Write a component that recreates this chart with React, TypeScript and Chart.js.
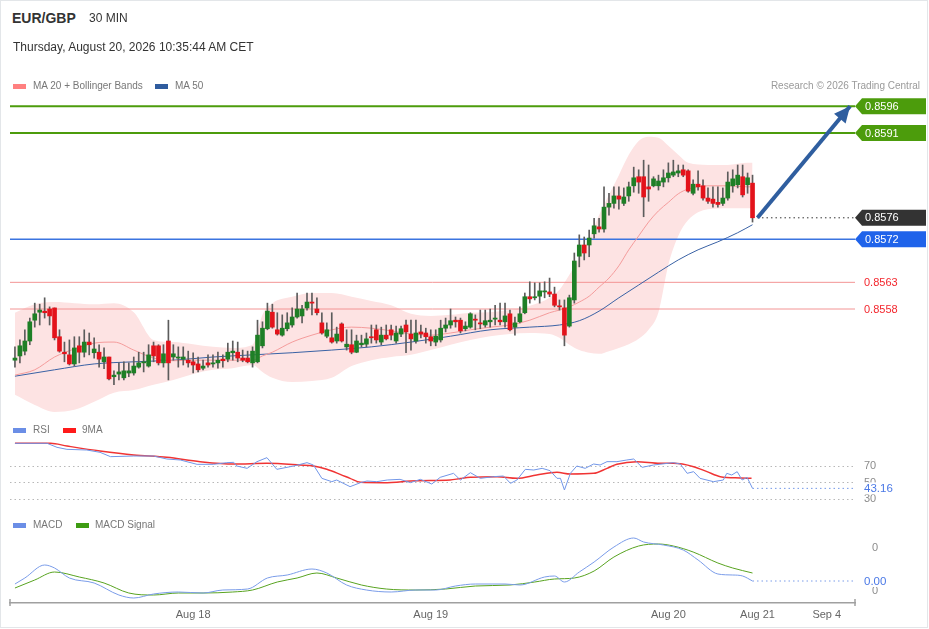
import React, { useEffect, useRef } from 'react';
import { Chart, registerables } from 'chart.js';

Chart.register(...registerables);

const FONT = "'Liberation Sans', Arial, Helvetica, sans-serif";

// ---------- candles (30 min EUR/GBP) ----------
const opens = [
  .85484, .85492, .85501, .8552, .85559, .85574, .85576, .8558, .85582, .85528,
  .85499, .85494, .85477, .85511, .85499, .85518, .85498, .85499, .85481, .8549,
  .85453, .85458, .85451, .8546, .8546, .85471, .85479, .85473, .85511, .85511,
  .85479, .8552, .8549, .85488, .85486, .85484, .85481, .85477, .85469, .85479,
  .85477, .85479, .85486, .85486, .85498, .85499, .85488, .85488, .85479, .85481,
  .85511, .85543, .85574, .85541, .85531, .85543, .8555, .85565, .85567, .85582,
  .85593, .8558, .85554, .85529, .85526, .8552, .85552, .85509, .85513, .85499,
  .85513, .85514, .85528, .85541, .85518, .85531, .85541, .8552, .85533, .8555,
  .85533, .8552, .85537, .85535, .85528, .85518, .85522, .85544, .8555, .85559,
  .85559, .85543, .85546, .85561, .85554, .8555, .85556, .85561, .85559, .85556,
  .85571, .85546, .85556, .85573, .85603, .85601, .85604, .85612, .85612, .85608,
  .85586, .85582, .85548, .85597, .85679, .857, .857, .85721, .85734, .8573,
  .85771, .85778, .85792, .85778, .85792, .85811, .85828, .85828, .85809, .85811,
  .85811, .85818, .85826, .85831, .85835, .85841, .85839, .85797, .85814, .85811,
  .85788, .85786, .8578, .85778, .85788, .85811, .85813, .85828, .85813, .85816,
];
const highs = [
  .85509, .85522, .85541, .85563, .85591, .85589, .85601, .85584, .85582, .85541,
  .85518, .85522, .85528, .85528, .85541, .85535, .85526, .85513, .85507, .8549,
  .85464, .85479, .85481, .85479, .8549, .85499, .85499, .85513, .85518, .85513,
  .85513, .85559, .85513, .85509, .85509, .85501, .85498, .8549, .85484, .85494,
  .85494, .85499, .85494, .85516, .8552, .85518, .85503, .85501, .85509, .85559,
  .85556, .85591, .85589, .85573, .85569, .85573, .85582, .8561, .85587, .8561,
  .8561, .85601, .85573, .85554, .85573, .85546, .85554, .85541, .85541, .85531,
  .85531, .85535, .8555, .8555, .85546, .8555, .8555, .85548, .85548, .85559,
  .85559, .85559, .8555, .85544, .85541, .85541, .85559, .85563, .8558, .85565,
  .85563, .85556, .85573, .85569, .85578, .85578, .8558, .85587, .85591, .85591,
  .85578, .85565, .85584, .8561, .85631, .85629, .85629, .85631, .85638, .85621,
  .85597, .85597, .85606, .85685, .85719, .85715, .85728, .8575, .8575, .85809,
  .85797, .85809, .85809, .85807, .85818, .85846, .85841, .85859, .8585, .85828,
  .85831, .85841, .85854, .85859, .8585, .8585, .85841, .85822, .85839, .85822,
  .85807, .85809, .85809, .85807, .85837, .85841, .8585, .8585, .85835, .85831,
];
const lows = [
  .85471, .85479, .85494, .85513, .85546, .8555, .85563, .8555, .85522, .85499,
  .85481, .85475, .85473, .85479, .8549, .85494, .85488, .85471, .85468, .85447,
  .85438, .85447, .85447, .85453, .85456, .85469, .85462, .85471, .85481, .85475,
  .85471, .85447, .85484, .85471, .85475, .85471, .8546, .85462, .85466, .85471,
  .85471, .85469, .85471, .85481, .85484, .85481, .85481, .85479, .85471, .85479,
  .85507, .85541, .85544, .85531, .85529, .85539, .85546, .85563, .85554, .85578,
  .85569, .85569, .85533, .85526, .85516, .85516, .85518, .85503, .85496, .85498,
  .85509, .85509, .85516, .85516, .85513, .85522, .85522, .85516, .85528, .85498,
  .85503, .85516, .85526, .85516, .85511, .85511, .85518, .85537, .85544, .85546,
  .85535, .85539, .85544, .85541, .85543, .85546, .85546, .8555, .8555, .85546,
  .85539, .85531, .85554, .85571, .85591, .85597, .85591, .85601, .85603, .85584,
  .85578, .85511, .85546, .85591, .85659, .85672, .85678, .85713, .85724, .85724,
  .85756, .85769, .85767, .85774, .85782, .85799, .85797, .85753, .85782, .85809,
  .85803, .85809, .85818, .85828, .85828, .85828, .85799, .85794, .85803, .85784,
  .85778, .85771, .85771, .85774, .85784, .85799, .85807, .8579, .85797, .85743,
];
const closes = [
  .85488, .85511, .8552, .85556, .85571, .85578, .85573, .85567, .85526, .85501,
  .85496, .85477, .85507, .85499, .85518, .85513, .85505, .85486, .8549, .85449,
  .85456, .85462, .85464, .85464, .85473, .85479, .85481, .85494, .85492, .85479,
  .85496, .85479, .85496, .8549, .8549, .85479, .85475, .85466, .85473, .85475,
  .85479, .85484, .85483, .85499, .85501, .85488, .85484, .85481, .85501, .85531,
  .85544, .85576, .85546, .85533, .85544, .85554, .85565, .8558, .8558, .85593,
  .85591, .85573, .85535, .85541, .85518, .85533, .8552, .85514, .85499, .8552,
  .85516, .85524, .85526, .85522, .85531, .85524, .85531, .85535, .85543, .85537,
  .85524, .85535, .85533, .85528, .8552, .85529, .85544, .8555, .85558, .85556,
  .85539, .85548, .85571, .85559, .85552, .85558, .85559, .85563, .85556, .85567,
  .85541, .85554, .85571, .85603, .85599, .85603, .85614, .85614, .85608, .85587,
  .85584, .85531, .85601, .8567, .857, .85685, .85713, .85736, .8573, .85771,
  .85778, .85792, .85786, .8579, .85809, .85826, .85818, .8579, .85805, .85824,
  .8582, .85826, .85835, .85837, .85839, .85831, .85801, .85814, .85809, .85788,
  .85782, .85778, .85776, .85788, .85818, .85824, .85831, .85794, .85826, .85751,
];

// ---------- MA 20 + Bollinger Bands (sampled at candle index) ----------
const bandIdx = [0, 4, 8, 12, 16, 20, 24, 28, 32, 36, 40, 44, 48, 50, 52, 56, 60, 64, 68, 72, 76, 80, 84, 88, 92, 96, 100, 104, 108,
  110, 112, 114, 116, 118, 120, 122, 124, 126, 128, 130, 132, 134, 136, 140, 144, 148, 149];
const bbUpper = [.85573, .85589, .85593, .85591, .85589, .85591, .85574, .85522, .85518, .85514, .85509, .85507, .85513, .85569, .85591,
  .85603, .8561, .8561, .85603, .85595, .85587, .85571, .85567, .85569, .85573, .85574, .85578, .85586, .85601,
  .85616, .85644, .85676, .85713, .85756, .85794, .85831, .85869, .85895, .85903, .85901, .85886, .85869, .85854,
  .8585, .8585, .85854, .85854];
const bbLower = [.85419, .854, .85387, .85391, .85406, .85423, .85428, .85438, .85447, .85458, .85466, .85469, .85475, .85462, .85451,
  .85443, .85445, .85451, .85473, .85484, .8549, .85494, .85503, .85513, .85522, .85529, .85533, .85535, .85533,
  .85526, .85513, .85503, .85498, .85496, .85501, .85507, .85514, .85524, .85541, .85574, .85663, .85717, .85747,
  .85767, .85769, .85769, .85769];
const ma20 = [.85456, .85466, .8549, .85505, .85516, .85518, .85503, .85488, .85483, .85484, .85484, .85484, .85484, .85492, .85499,
  .85518, .85531, .85541, .85546, .85544, .85539, .85533, .85531, .85535, .85541, .85546, .8555, .85559, .85573,
  .85578, .85584, .85593, .85604, .85621, .85638, .85661, .85691, .85717, .85743, .85764, .8578, .85796, .85805,
  .85811, .85811, .85809, .85809];

// ---------- MA 50 ----------
const ma50Idx = [0, 8, 16, 24, 32, 40, 48, 56, 64, 72, 80, 88, 96, 104, 110, 114, 118, 122, 126, 130, 134, 138, 142, 146, 149];
const ma50 = [.85454, .85466, .85477, .85481, .85484, .8549, .85494, .85498, .85503, .85509, .85518, .85529, .85541, .85546, .8555,
  .85558, .85576, .85601, .85625, .85649, .85672, .85691, .85706, .85723, .85738];

// ---------- key levels ----------
const levelValues = [0.8596, 0.8591, 0.85751, 0.85711, 0.8563, 0.8558];
const levelLabels = ['0.8596', '0.8591', '0.8576', '0.8572', '0.8563', '0.8558'];
const levelKinds = ['resistance', 'resistance', 'last', 'pivot', 'support', 'support'];

// ---------- forecast arrow (candle index, price) ----------
const forecastX = [150, 168.7];
const forecastY = [0.85751, 0.8596];

// ---------- RSI ----------
const rsiIdx = [0, 6.5, 8.5, 10.5, 14.5, 17.2, 19.3, 24, 28, 30.7, 33.4, 36.8, 40.1, 42.8, 44.2, 44.8, 46.9, 48.9, 50.9, 52.9,
  56.3, 59, 60.3, 62, 64, 65, 67.7, 69.8, 71.1, 73.1, 75.2, 77.8, 79.9, 81.9, 84.2, 85.9, 88.6, 90, 92, 94,
  96.7, 98.7, 100.1, 101.4, 103.1, 104.8, 106.5, 108.1, 109.5, 110.2, 111, 112.2, 113.5, 115.2, 116.9, 118.2, 119.6, 121.6, 123.6, 125,
  126.7, 129, 133, 134.4, 135.8, 137.1, 138.4, 141.1, 143.1, 143.8, 144.8, 145.9, 146.9, 147.9, 149];
const rsiVal = [97.2, 97.2, 92.4, 90, 89.2, 86.4, 81.2, 82, 82, 78.4, 77.2, 72, 72, 74, 74.4, 70, 67.2, 75.2, 80, 66,
  70, 74, 71.2, 55.2, 51.2, 53.2, 45.2, 50, 52, 51.2, 53.2, 54, 50, 54, 48.4, 56.4, 61.2, 53.2, 62, 55.2,
  57.2, 58, 49.2, 53.2, 66, 65.2, 67.2, 64.4, 55.2, 55.2, 41.2, 61.2, 70, 67.2, 72.4, 71.2, 75.2, 75.2, 77.2, 78.4,
  68.4, 71.2, 74, 72.4, 61.2, 63.2, 55.2, 51.2, 53.2, 61.2, 59.2, 63.2, 53.2, 56.4, 43.16];
const rsiMaIdx = [0, 7.2, 10.5, 17.2, 24, 30.7, 37.4, 44.2, 50.9, 57.6, 60.3, 63, 65.7, 67.7, 69.8, 74.5, 81.2, 87.9, 90, 92,
  97.4, 101.4, 105.4, 109.5, 112.2, 116.9, 119.6, 121.6, 125.6, 130.3, 133, 137.1, 139.8, 142.5, 146.5, 148.8];
const rsiMaVal = [97.2, 97.2, 94, 88, 83.2, 80.4, 75.2, 72.4, 73.2, 71.2, 70, 66, 60, 55.2, 50.4, 50, 52.4, 53.2, 55, 56.4,
  57.2, 55.2, 59.2, 62.4, 60.4, 61.2, 67.2, 72, 75.2, 73.2, 73.2, 69.2, 63.2, 57.2, 55.6, 55.2];
const rsiTicks = [30, 50, 70];

// ---------- MACD ----------
const macdIdx = [0, 2, 6, 8, 11, 16, 21, 24, 28, 33, 38, 42, 47, 51, 55, 60, 63, 67, 71, 76, 81, 85, 89, 93, 99, 102, 107, 109, 111, 114,
  117, 121, 125, 127, 131, 135, 138, 142, 145, 147, 149];
const macdVal = [0.000049, 0.000091, 0.000182, 0.000161, 0.000091, 0.000056, -0.000028, -0.000049, -0.000021, -0.000007,
  -0.000014, 0.000007, 0.000014, 0.000091, 0.000112, 0.000154, 0.000126, 0.000042, 0.000007, -0.000007,
  0.000007, 0.000007, 0.000035, 0.000049, 0.000049, 0.000042, 0.000098, 0.000105, 0.000063, 0.000133,
  0.000203, 0.000308, 0.000371, 0.000343, 0.000322, 0.000287, 0.000217, 0.000119, 0.000112, 0.000105, 0.00007];
const signalIdx = [0, 4, 8, 13, 18, 23, 28, 33, 38, 44, 48, 53, 57, 61, 65, 70, 75, 81, 87, 93, 100, 105, 109, 113, 117, 121, 126, 130,
  133, 137, 142, 145, 149];
const signalVal = [0.000021, 0.000077, 0.000133, 0.000098, 0.000056, -0.000014, -0.000028, -0.000014, -0.000014, -0.000007,
  0.000007, 0.000063, 0.000091, 0.000126, 0.000091, 0.000042, 0.000014, 0.000007, 0.000014, 0.000035,
  0.000042, 0.000063, 0.000084, 0.000091, 0.00014, 0.000238, 0.000315, 0.000329, 0.000315, 0.000273,
  0.000196, 0.000161, 0.000126];
const macdTicks = [0, 0.0003];

// ---------- time axis ----------
const xTickIndex = [36, 84, 132, 150, 164];
const xTickLabels = ['Aug 18', 'Aug 19', 'Aug 20', 'Aug 21', 'Sep 4'];

// ---------- layout / scale ranges ----------
const W = 929;
const X_MIN = -1;
const X_MAX = 169.7;
const PRICE_MIN = 0.8538125;
const PRICE_MAX = 0.859775;
const RSI_MIN = 22;
const RSI_MAX = 103.6;
const MACD_MIN = -0.000084;
const MACD_MAX = 0.000392;

const COL = {
  up: '#1e7f26',
  down: '#e3131b',
  wick: '#5c5c5c',
  band: '#fde3e3',
  ma20: '#f59c9c',
  ma50: '#3a62a5',
  arrow: '#2f5e9f',
  rsi: '#7196e8',
  rsiMa: '#f03434',
  macd: '#7a9ce9',
  signal: '#58a320',
  blueText: '#4a78e6',
};
const LEVEL_STYLE: Record<string, any> = {
  resistance: { line: '#4c9c0c', width: 2, box: '#4c9c0c', dash: [] },
  last: { line: '#333333', width: 1, box: '#333333', dash: [1.5, 3] },
  pivot: { line: '#3b74e0', width: 1.5, box: '#1f63ea', dash: [] },
  support: { line: '#f39494', width: 1, box: null, text: '#f3262d', dash: [] },
};

const pts = (xs: number[], ys: number[]) => xs.map((x, i) => ({ x, y: ys[i] }));

const baseOptions = (padding: any) => ({
  responsive: false,
  animation: false as const,
  events: [] as any[],
  layout: { padding },
  plugins: { legend: { display: false }, tooltip: { enabled: false }, title: { display: false } },
});

// ---------- plugins ----------
const mainOverlay = {
  id: 'mainOverlay',
  afterDatasetsDraw(chart: any) {
    const { ctx, chartArea, scales } = chart;
    const xs = scales.x;
    const ys = scales.y;
    ctx.save();
    // arrow head
    const x1 = xs.getPixelForValue(forecastX[0]);
    const y1 = ys.getPixelForValue(forecastY[0]);
    const x2 = xs.getPixelForValue(forecastX[1]);
    const y2 = ys.getPixelForValue(forecastY[1]);
    const a = Math.atan2(y2 - y1, x2 - x1);
    const L = 16;
    const H = 7.5;
    const bx = x2 - L * Math.cos(a);
    const by = y2 - L * Math.sin(a);
    ctx.fillStyle = COL.arrow;
    ctx.beginPath();
    ctx.moveTo(x2, y2);
    ctx.lineTo(bx - H * Math.sin(a), by + H * Math.cos(a));
    ctx.lineTo(bx + H * Math.sin(a), by - H * Math.cos(a));
    ctx.closePath();
    ctx.fill();

    // level labels
    ctx.font = `11px ${FONT}`;
    ctx.textBaseline = 'middle';
    const right = chart.width - 3;
    levelValues.forEach((v, i) => {
      const st = LEVEL_STYLE[levelKinds[i]];
      const y = ys.getPixelForValue(v);
      const x0 = chartArea.right;
      if (!st.box) {
        ctx.fillStyle = st.text;
        ctx.fillText(levelLabels[i], x0 + 9, y + 0.5);
        return;
      }
      ctx.fillStyle = st.box;
      ctx.beginPath();
      ctx.moveTo(x0, y);
      ctx.lineTo(x0 + 7, y - 8);
      ctx.lineTo(right, y - 8);
      ctx.lineTo(right, y + 8);
      ctx.lineTo(x0 + 7, y + 8);
      ctx.closePath();
      ctx.fill();
      ctx.fillStyle = '#ffffff';
      ctx.fillText(levelLabels[i], x0 + 10, y + 0.5);
    });
    ctx.restore();
  },
};

const valueTag = (id: string, value: number, digits: number) => ({
  id,
  afterDraw(chart: any) {
    const { ctx, chartArea, scales } = chart;
    const y = scales.y.getPixelForValue(value);
    const x = chartArea.right + 7;
    ctx.save();
    ctx.fillStyle = '#ffffff';
    ctx.fillRect(x, y - 6, 34, 12);
    ctx.fillStyle = COL.blueText;
    ctx.font = `11.5px ${FONT}`;
    ctx.textBaseline = 'middle';
    ctx.fillText(value.toFixed(digits), x + 2, y + 0.5);
    ctx.restore();
  },
});

const axisBrackets = {
  id: 'axisBrackets',
  afterDraw(chart: any) {
    const { ctx, chartArea } = chart;
    ctx.save();
    ctx.strokeStyle = '#a0a0a0';
    ctx.lineWidth = 1.5;
    [chartArea.left, chartArea.right].forEach((x: number) => {
      ctx.beginPath();
      ctx.moveTo(x, chartArea.bottom - 4);
      ctx.lineTo(x, chartArea.bottom + 3);
      ctx.stroke();
    });
    ctx.restore();
  },
};

// ---------- configs ----------
function mainConfig(): any {
  const wickData = opens.map((_, i) => ({ x: i, y: [lows[i], highs[i]] }));
  const bodyData = opens.map((o, i) => ({ x: i, y: [o, closes[i]] }));
  const bodyColors = opens.map((o, i) => (closes[i] >= o ? COL.up : COL.down));
  const levelSets = levelValues.map((v, i) => {
    const st = LEVEL_STYLE[levelKinds[i]];
    const startX = levelKinds[i] === 'last' ? forecastX[0] : X_MIN;
    return {
      type: 'line',
      data: [{ x: startX, y: v }, { x: X_MAX, y: v }],
      borderColor: st.line,
      borderWidth: st.width,
      borderDash: st.dash,
      pointRadius: 0,
      order: 6,
    };
  });
  return {
    type: 'line',
    data: {
      datasets: [
        { type: 'line', data: pts(bandIdx, bbUpper), borderColor: 'rgba(0,0,0,0)', borderWidth: 0, pointRadius: 0, fill: '+1', backgroundColor: COL.band, cubicInterpolationMode: 'monotone', order: 10 },
        { type: 'line', data: pts(bandIdx, bbLower), borderColor: 'rgba(0,0,0,0)', borderWidth: 0, pointRadius: 0, fill: false, cubicInterpolationMode: 'monotone', order: 10 },
        { type: 'line', data: pts(bandIdx, ma20), borderColor: COL.ma20, borderWidth: 1, pointRadius: 0, fill: false, cubicInterpolationMode: 'monotone', order: 5 },
        { type: 'line', data: pts(ma50Idx, ma50), borderColor: COL.ma50, borderWidth: 1, pointRadius: 0, fill: false, cubicInterpolationMode: 'monotone', order: 5 },
        ...levelSets,
        { type: 'line', data: pts(forecastX, forecastY), borderColor: COL.arrow, borderWidth: 4, pointRadius: 0, fill: false, order: 0 },
        { type: 'bar', data: wickData, backgroundColor: COL.wick, barThickness: 1, grouped: false, borderWidth: 0, order: 2 },
        { type: 'bar', data: bodyData, backgroundColor: bodyColors, barThickness: 4, minBarLength: 1, grouped: false, borderWidth: 0, order: 1 },
      ],
    },
    options: {
      ...baseOptions({ left: 10, right: 74, top: 10, bottom: 10 }),
      scales: {
        x: { type: 'linear', min: X_MIN, max: X_MAX, display: false, offset: false },
        y: { type: 'linear', min: PRICE_MIN, max: PRICE_MAX, display: false },
      },
    },
    plugins: [mainOverlay],
  };
}

function rsiConfig(): any {
  const lastRsi = rsiVal[rsiVal.length - 1];
  return {
    type: 'line',
    data: {
      datasets: [
        { data: pts(rsiIdx, rsiVal), borderColor: COL.rsi, borderWidth: 1, pointRadius: 0, tension: 0 },
        { data: pts(rsiMaIdx, rsiMaVal), borderColor: COL.rsiMa, borderWidth: 1.5, pointRadius: 0, cubicInterpolationMode: 'monotone' },
        { data: [{ x: rsiIdx[rsiIdx.length - 1], y: lastRsi }, { x: X_MAX, y: lastRsi }], borderColor: COL.rsi, borderWidth: 1, borderDash: [1.5, 3], pointRadius: 0 },
      ],
    },
    options: {
      ...baseOptions({ left: 10, right: 0, top: 16, bottom: 16 }),
      scales: {
        x: { type: 'linear', min: X_MIN, max: X_MAX, display: false },
        y: {
          type: 'linear', position: 'right', min: RSI_MIN, max: RSI_MAX,
          afterFit: (s: any) => { s.width = 74; },
          afterBuildTicks: (s: any) => { s.ticks = rsiTicks.map((v) => ({ value: v })); },
          grid: { color: '#b8b8b8', drawTicks: false, lineWidth: 1 },
          border: { display: false, dash: [1.5, 3] },
          ticks: { color: '#8c8c8c', font: { family: FONT, size: 11 }, padding: 9 },
        },
      },
    },
    plugins: [valueTag('rsiTag', lastRsi, 2)],
  };
}

function macdConfig(): any {
  const lastMacd = macdVal[macdVal.length - 1];
  return {
    type: 'line',
    data: {
      datasets: [
        { data: pts(macdIdx, macdVal), borderColor: COL.macd, borderWidth: 1, pointRadius: 0, cubicInterpolationMode: 'monotone' },
        { data: pts(signalIdx, signalVal), borderColor: COL.signal, borderWidth: 1, pointRadius: 0, cubicInterpolationMode: 'monotone' },
        { data: [{ x: macdIdx[macdIdx.length - 1], y: lastMacd }, { x: X_MAX, y: lastMacd }], borderColor: COL.macd, borderWidth: 1, borderDash: [1.5, 3], pointRadius: 0 },
      ],
    },
    options: {
      ...baseOptions({ left: 10, right: 0, top: 16, bottom: 0 }),
      scales: {
        x: {
          type: 'linear', position: 'bottom', min: X_MIN, max: X_MAX,
          afterBuildTicks: (s: any) => { s.ticks = xTickIndex.map((v) => ({ value: v })); },
          afterFit: (s: any) => { s.height = 22; },
          grid: { display: true, drawOnChartArea: false, drawTicks: false },
          border: { display: true, color: '#a0a0a0', width: 1.5 },
          ticks: {
            autoSkip: false, maxRotation: 0, color: '#666666', padding: 5,
            font: { family: FONT, size: 11 },
            callback: (v: any) => { const k = xTickIndex.indexOf(Number(v)); return k >= 0 ? xTickLabels[k] : ''; },
          },
        },
        y: {
          type: 'linear', position: 'right', min: MACD_MIN, max: MACD_MAX,
          afterFit: (s: any) => { s.width = 74; },
          afterBuildTicks: (s: any) => { s.ticks = macdTicks.map((v) => ({ value: v })); },
          grid: { display: false },
          border: { display: false },
          ticks: { color: '#8c8c8c', font: { family: FONT, size: 11 }, padding: 9, callback: (v: any) => Number(v).toFixed(0) },
        },
      },
    },
    plugins: [valueTag('macdTag', lastMacd, 2), axisBrackets],
  };
}

function ChartCanvas({ top, height, build }: { top: number; height: number; build: () => any }) {
  const ref = useRef<HTMLCanvasElement>(null);
  useEffect(() => {
    if (!ref.current) return;
    const chart = new Chart(ref.current, build());
    return () => chart.destroy();
  }, []);
  return (
    <canvas
      ref={ref}
      width={W}
      height={height}
      style={{ position: 'absolute', left: 0, top, width: W, height, display: 'block' }}
    />
  );
}

const txt = (left: number, top: number, size: number, color: string, extra: any = {}) => ({
  position: 'absolute' as const, left, top, fontSize: size, lineHeight: '16px', color, whiteSpace: 'nowrap' as const, ...extra,
});
const swatch = (left: number, top: number, color: string) => ({
  position: 'absolute' as const, left, top, width: 13, height: 5, background: color,
});

export default function App() {
  return (
    <div style={{ position: 'absolute', left: 0, top: 0, width: W, height: 629, background: '#ffffff', fontFamily: FONT, overflow: 'hidden' }}>
      <div style={{ position: 'absolute', left: 0, top: 0, width: 928, height: 628, boxSizing: 'border-box', border: '1px solid #e3e6e9' }} />
      <ChartCanvas top={87} height={338} build={mainConfig} />
      <ChartCanvas top={422} height={100} build={rsiConfig} />
      <ChartCanvas top={519} height={106} build={macdConfig} />

      <div style={txt(12, 10, 14, '#333333', { fontWeight: 'bold' })}>EUR/GBP</div>
      <div style={txt(89, 10, 12, '#333333')}>30 MIN</div>
      <div style={txt(13, 39, 12, '#333333')}>Thursday, August 20, 2026 10:35:44 AM CET</div>

      <div style={swatch(13, 84, '#ff8080')} />
      <div style={txt(33, 78, 10, '#777777')}>MA 20 + Bollinger Bands</div>
      <div style={swatch(155, 84, '#2f5c9e')} />
      <div style={txt(175, 78, 10, '#777777')}>MA 50</div>
      <div style={txt(0, 78, 10, '#9a9a9a', { left: 'auto', right: 9 })}>Research © 2026 Trading Central</div>

      <div style={swatch(13, 428, '#6b8ee6')} />
      <div style={txt(33, 422, 10, '#777777')}>RSI</div>
      <div style={swatch(63, 428, '#ff1a1a')} />
      <div style={txt(82, 422, 10, '#777777')}>9MA</div>

      <div style={swatch(13, 523, '#6b8ee6')} />
      <div style={txt(33, 517, 10, '#777777')}>MACD</div>
      <div style={swatch(76, 523, '#3d9c12')} />
      <div style={txt(95, 517, 10, '#777777')}>MACD Signal</div>
    </div>
  );
}
